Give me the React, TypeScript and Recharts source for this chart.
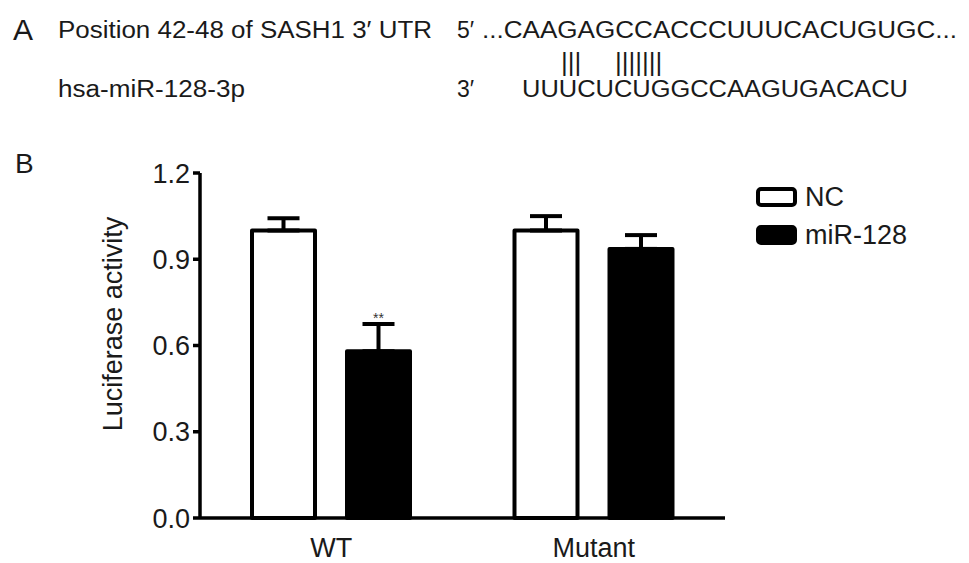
import React from 'react'
import { BarChart, Bar, XAxis, YAxis, ErrorBar, Legend, LabelList } from 'recharts'

// luciferase assay, panel B
const groups = ['WT', 'Mutant']
const ncValues = [1.0, 1.0]
const ncErrors = [0.043, 0.05]
const mirValues = [0.58, 0.936]
const mirErrors = [0.095, 0.048]
const mirMarks = ['**', '']
const yTicks = [0, 0.3, 0.6, 0.9, 1.2]

const seriesNames = ['NC', 'miR-128']
const seriesFills = ['#ffffff', '#000000']

// panel A sequence text
const utrLabel = 'Position 42-48 of SASH1 3\u2032 UTR'
const mirLabel = 'hsa-miR-128-3p'
const utrSeq = '...CAAGAGCCACCCUUUCACUGUGC...'
const mirSeq = 'UUUCUCUGGCCAAGUGACACU'
const pairA = '|||'
const pairB = '|||||||'

const FONT = '"Liberation Sans", Arial, Helvetica, sans-serif'
const INK = '#1a1a1a'

const data = groups.map((name, i) => ({
  name,
  nc: ncValues[i],
  ncErr: [0, ncErrors[i]],
  mir: mirValues[i],
  mirErr: [0, mirErrors[i]],
  mark: mirMarks[i],
}))

function LegendBox() {
  return (
    <div style={{ fontFamily: FONT, color: INK }}>
      {seriesNames.map((name, i) => (
        <div
          key={name}
          style={{ display: 'flex', alignItems: 'center', height: 20, marginBottom: i === 0 ? 18 : 0 }}
        >
          <svg width={41} height={20} style={{ display: 'block' }}>
            <rect x={2} y={2} width={37} height={16} rx={3} fill={seriesFills[i]} stroke="#000" strokeWidth={4} />
          </svg>
          <span style={{ fontSize: 27, lineHeight: '27px', marginLeft: 8 }}>{name}</span>
        </div>
      ))}
    </div>
  )
}

export default function App() {
  return (
    <div style={{ position: 'absolute', left: 0, top: 0, width: 969, height: 563, background: '#fff', fontFamily: FONT }}>
      <BarChart
        width={969}
        height={563}
        data={data}
        margin={{ top: 173, right: 244, bottom: 0, left: 0 }}
        barCategoryGap={52}
        barGap={32}
      >
        <XAxis
          dataKey="name"
          height={45}
          axisLine={{ stroke: '#000', strokeWidth: 3.5 }}
          tickLine={false}
          tickSize={0}
          tickMargin={20}
          tick={{ fontSize: 27, fill: INK, fontFamily: FONT }}
        />
        <YAxis
          width={200}
          domain={[0, 1.2]}
          ticks={yTicks}
          tickFormatter={(v: number) => v.toFixed(1)}
          axisLine={{ stroke: '#000', strokeWidth: 3.5 }}
          tickLine={{ stroke: '#000', strokeWidth: 3.5 }}
          tickSize={7}
          tickMargin={3}
          tick={{ fontSize: 27, fill: INK, fontFamily: FONT }}
        />
        <Legend
          layout="vertical"
          align="center"
          verticalAlign="middle"
          wrapperStyle={{ left: 756, top: 187, width: 200, height: 80 }}
          content={() => <LegendBox />}
        />
        <Bar
          dataKey="nc"
          name={seriesNames[0]}
          fill={seriesFills[0]}
          stroke="#000"
          strokeWidth={4}
          strokeLinejoin="round"
          isAnimationActive={false}
        >
          <ErrorBar dataKey="ncErr" width={16} stroke="#000" strokeWidth={4} direction="y" />
        </Bar>
        <Bar
          dataKey="mir"
          name={seriesNames[1]}
          fill={seriesFills[1]}
          stroke="#000"
          strokeWidth={4}
          strokeLinejoin="round"
          isAnimationActive={false}
        >
          <ErrorBar dataKey="mirErr" width={16} stroke="#000" strokeWidth={4} direction="y" />
          <LabelList dataKey="mark" position="top" offset={28} fill="#333" style={{ fontSize: 14, fontFamily: FONT }} />
        </Bar>
      </BarChart>

      <svg
        width={969}
        height={563}
        style={{ position: 'absolute', left: 0, top: 0, pointerEvents: 'none' }}
        fontFamily={FONT}
        fill={INK}
      >
        <text x={13} y={40} fontSize={30}>A</text>
        <text x={58} y={38} fontSize={23} textLength={374} lengthAdjust="spacingAndGlyphs">{utrLabel}</text>
        <text x={457} y={38} fontSize={23}>5′</text>
        <text x={482} y={38} fontSize={23} textLength={475} lengthAdjust="spacingAndGlyphs">{utrSeq}</text>
        <text x={561} y={71} fontSize={26}>{pairA}</text>
        <text x={615} y={71} fontSize={26}>{pairB}</text>
        <text x={58} y={97} fontSize={23} textLength={187} lengthAdjust="spacingAndGlyphs">{mirLabel}</text>
        <text x={457} y={97} fontSize={23}>3′</text>
        <text x={522} y={97} fontSize={23} textLength={386} lengthAdjust="spacingAndGlyphs">{mirSeq}</text>

        <text x={15} y={173} fontSize={28}>B</text>
        <text x={0} y={0} fontSize={27} textAnchor="middle" transform="translate(122,324) rotate(-90)">
          Luciferase activity
        </text>
      </svg>
    </div>
  )
}
